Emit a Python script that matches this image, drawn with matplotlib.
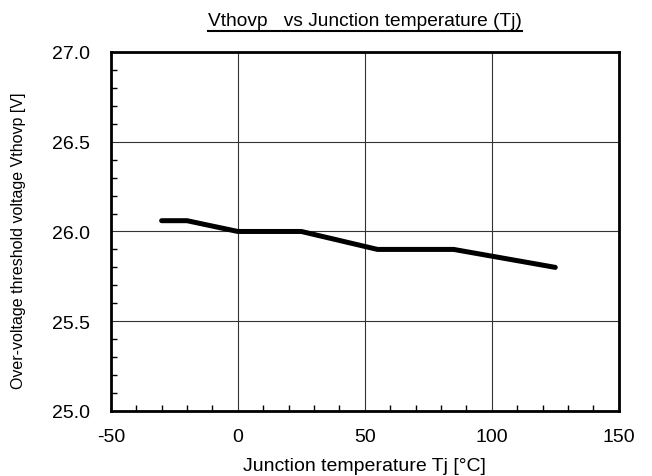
import matplotlib
matplotlib.use("Agg")
import matplotlib.pyplot as plt
from matplotlib.ticker import MultipleLocator
from matplotlib.lines import Line2D

plt.rcParams["font.family"] = ["Liberation Sans", "DejaVu Sans"]

# DATA

tj = [-30, -20, 0, 25, 55, 85, 125]
vthovp = [26.06, 26.06, 26.0, 26.0, 25.9, 25.9, 25.8]

x_ticks = [-50, 0, 50, 100, 150]
y_ticks = [25.0, 25.5, 26.0, 26.5, 27.0]

# PLOT

fig = plt.figure(figsize=(6.52, 4.77), dpi=100)
ax = fig.add_axes([0.170, 0.1363, 0.779, 0.7527])

ax.plot(tj, vthovp, color="black", linewidth=3.6, solid_capstyle="round",
        solid_joinstyle="round", zorder=3)

ax.set_xlim(-50, 150)
ax.set_ylim(25.0, 27.0)
ax.set_xticks(x_ticks)
ax.set_yticks(y_ticks)
ax.set_xticklabels([str(v) for v in x_ticks])
ax.set_yticklabels([f"{v:.1f}" for v in y_ticks])
ax.xaxis.set_minor_locator(MultipleLocator(10))
ax.yaxis.set_minor_locator(MultipleLocator(0.1))

ax.tick_params(which="both", direction="in", top=False, right=False, color="black")
ax.tick_params(which="major", length=0, labelsize=14)
ax.tick_params(axis="x", which="major", pad=12)
ax.tick_params(axis="y", which="major", pad=15)
ax.tick_params(which="minor", length=4, width=1)

ax.grid(True, which="major", color="#333333", linewidth=0.8)
for side in ax.spines.values():
    side.set_linewidth(2)

ax.set_xlabel("Junction temperature Tj [°C]", fontsize=14, labelpad=9)
ax.set_ylabel("Over-voltage threshold voltage Vthovp [V]", fontsize=11.5)
ax.yaxis.set_label_coords(-0.168, 0.476)

title = fig.text(0.56, 0.945, "Vthovp   vs Junction temperature (Tj)",
                 ha="center", va="baseline", fontsize=13.8)

# underline the title
fig.canvas.draw()
bb = title.get_window_extent().transformed(fig.transFigure.inverted())
fig.add_artist(Line2D([bb.x0, bb.x1], [bb.y0 - 0.004, bb.y0 - 0.004],
                      transform=fig.transFigure, color="black", linewidth=1.5))

fig.savefig("out.png", dpi=100)
